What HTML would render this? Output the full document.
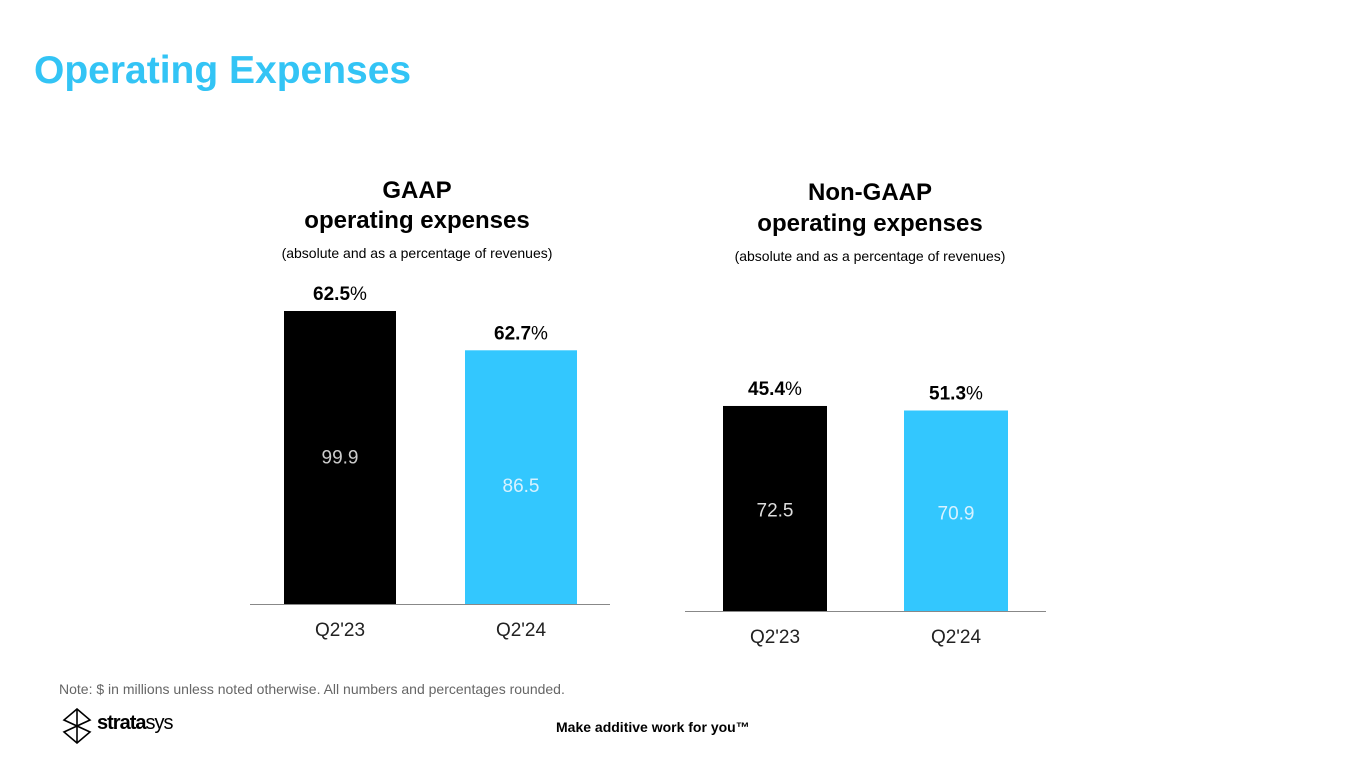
<!DOCTYPE html>
<html><head><meta charset="utf-8"><style>
body{margin:0;width:1365px;height:768px;background:#fff;font-family:"Liberation Sans",Arial,sans-serif;overflow:hidden;position:relative}
.t{position:absolute;white-space:nowrap}
</style></head><body>
<div class="t" style="left:34px;top:49px;font-size:39px;font-weight:bold;color:#33c4f5">Operating Expenses</div>
<svg id="c" width="1365" height="768" style="position:absolute;left:0;top:0">
<text x="417" y="198" text-anchor="middle" font-size="24" font-weight="bold">GAAP</text>
<text x="417" y="228" text-anchor="middle" font-size="24" font-weight="bold">operating expenses</text>
<text x="417" y="258" text-anchor="middle" font-size="14">(absolute and as a percentage of revenues)</text>
<text x="870" y="200" text-anchor="middle" font-size="24" font-weight="bold">Non-GAAP</text>
<text x="870" y="231" text-anchor="middle" font-size="24" font-weight="bold">operating expenses</text>
<text x="870" y="261" text-anchor="middle" font-size="14">(absolute and as a percentage of revenues)</text>
</svg>
<div class="t" style="left:59px;top:681px;font-size:14px;color:#666">Note: $ in millions unless noted otherwise. All numbers and percentages rounded.</div>
<svg width="30" height="36" style="position:absolute;left:62px;top:708px" viewBox="0 0 30 36">
<g fill="none" stroke="#000" stroke-width="1.6"><path d="M15 1 L28 12 L2 24 L15 35 L28 24 L2 12 Z"/><path d="M15 1 L15 35"/></g></svg>
<div class="t" style="left:97px;top:712px;font-size:20px;letter-spacing:-1px"><b>strata</b>sys</div>
<div class="t" style="left:556px;top:719px;font-size:14px;font-weight:bold">Make additive work for you™</div>
<script>
const gaapCats=["Q2'23","Q2'24"];
const gaapValues=[99.9,86.5];
const gaapPct=["62.5","62.7"];
const ngCats=["Q2'23","Q2'24"];
const ngValues=[72.5,70.9];
const ngPct=["45.4","51.3"];
const svg=document.getElementById('c');const NS='http://www.w3.org/2000/svg';
function mk(t,a){const e=document.createElementNS(NS,t);for(const k in a)e.setAttribute(k,a[k]);svg.appendChild(e);return e;}
function chart(pfx,cats,vals,pct,base,scale,xs,bw,ax0,ax1,cols,lblCols,lblOff){
 const y=v=>base-v*scale;
 const l=mk('line',{x1:ax0,x2:ax1,y1:base+0.5,y2:base+0.5,stroke:'#888','stroke-width':1});
 
 
 vals.forEach((v,i)=>{
  const r=mk('rect',{x:xs[i],y:y(v),width:bw,height:base-y(v),fill:cols[i]});
  
  
  const cx=xs[i]+bw/2;
  const vt=mk('text',{x:cx,y:(y(v)+base)/2+6+lblOff[i],'text-anchor':'middle','font-size':19,fill:lblCols[i]});vt.textContent=v.toFixed(1);
  
  
  const pt=mk('text',{x:cx,y:y(v)-11,'text-anchor':'middle','font-size':19});
  pt.innerHTML='<tspan font-weight="bold">'+pct[i]+'</tspan>%';
  
  
  const ct=mk('text',{x:cx,y:base+32,'text-anchor':'middle','font-size':19,fill:'#222'});ct.textContent=cats[i];
  
  
 });
}
chart('gaap',gaapCats,gaapValues,gaapPct,604,2.933,[284,465],112,250,610,['#000','#33c7fe'],['#ccc','#d8f2ff'],[0,9]);
chart('nongaap',ngCats,ngValues,ngPct,611,2.828,[723,904],104,685,1046,['#000','#33c7fe'],['#ddd','#d8f2ff'],[2,3]);
</script>
</body></html>
